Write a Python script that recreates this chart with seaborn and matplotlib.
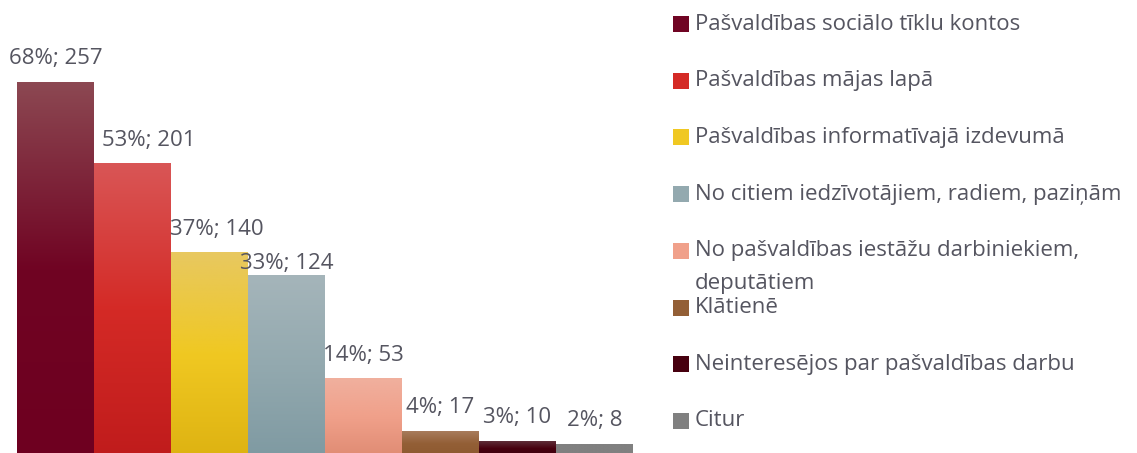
import numpy as np
import pandas as pd
import matplotlib
matplotlib.use("Agg")
import matplotlib.pyplot as plt
import seaborn as sns
from matplotlib.colors import LinearSegmentedColormap
from matplotlib.patches import Rectangle

categories = [
    "Pašvaldības sociālo tīklu kontos",
    "Pašvaldības mājas lapā",
    "Pašvaldības informatīvajā izdevumā",
    "No citiem iedzīvotājiem, radiem, paziņām",
    "No pašvaldības iestāžu darbiniekiem,\ndeputātiem",
    "Klātienē",
    "Neinteresējos par pašvaldības darbu",
    "Citur",
]
percents = [68, 53, 37, 33, 14, 4, 3, 2]
counts = [257, 201, 140, 124, 53, 17, 10, 8]

top_colors = ["#8c4852", "#d95656", "#e8c860", "#a5b5ba", "#f0b09e", "#a87c5c", "#5e2e38", "#808080"]
mid_colors = ["#700423", "#d42a26", "#f0c822", "#93a9af", "#f0a08a", "#935f36", "#47000f", "#808080"]
bot_colors = ["#6e0020", "#c01c1c", "#deb312", "#7f9aa2", "#e08c74", "#8d5a30", "#3f000e", "#808080"]

# label nudges in pixels (x right, y up), mimicking the original placement
label_dx = [0, 16, 7, 0, 0, 0, 0, 0]
label_dy = [0, 0, 0, -11, 0, 0, 0, 0]

TEXT = "#555560"
FONT = ["Open Sans", "DejaVu Sans"]

sns.set_theme(style="white")
plt.rcParams["font.family"] = FONT

W, H = 1137, 453
fig = plt.figure(figsize=(W / 100, H / 100), dpi=100)
ax = fig.add_axes([17 / W, -2.5 / H, (633 - 17) / W, 455.5 / H])

df = pd.DataFrame({"cat": categories, "n": counts})
sns.barplot(data=df, x="cat", y="n", hue="cat", palette=mid_colors, legend=False,
            width=1.0, ax=ax, saturation=1, linewidth=0)
ymax = 313.4
px_per_unit = 455.5 / ymax
ax.axis("off")

for i, p in enumerate(ax.patches):
    x0, y0 = p.get_x(), p.get_y()
    w, h = p.get_width(), p.get_height()
    cmap = LinearSegmentedColormap.from_list(f"g{i}", [bot_colors[i], mid_colors[i], top_colors[i]])
    grad = np.linspace(0, 1, 256).reshape(-1, 1)
    im = ax.imshow(grad, cmap=cmap, origin="lower", aspect="auto",
                   extent=[x0, x0 + w, y0, y0 + h], zorder=p.get_zorder() + 0.1)
    im.set_clip_path(p)
    ax.text(x0 + w / 2 + label_dx[i] / 77.0, y0 + h + (17.5 + label_dy[i]) / px_per_unit,
            f"{percents[i]}%; {counts[i]}",
            ha="center", va="baseline", fontsize=16, color=TEXT)

ax.set_xlim(-0.5, len(categories) - 0.5)
ax.set_ylim(0, ymax)

# legend
step = 56.7
for i, lab in enumerate(categories):
    yc = 24 + i * step
    fig.patches.append(Rectangle((673 / W, 1 - (yc + 8) / H), 16 / W, 16 / H,
                                 transform=fig.transFigure, facecolor=mid_colors[i],
                                 edgecolor="none"))
    for k, line in enumerate(lab.split("\n")):
        fig.text(695 / W, 1 - (yc + k * 33) / H, line, ha="left", va="center",
                 fontsize=16, color=TEXT)

fig.savefig("out.png", dpi=100)
